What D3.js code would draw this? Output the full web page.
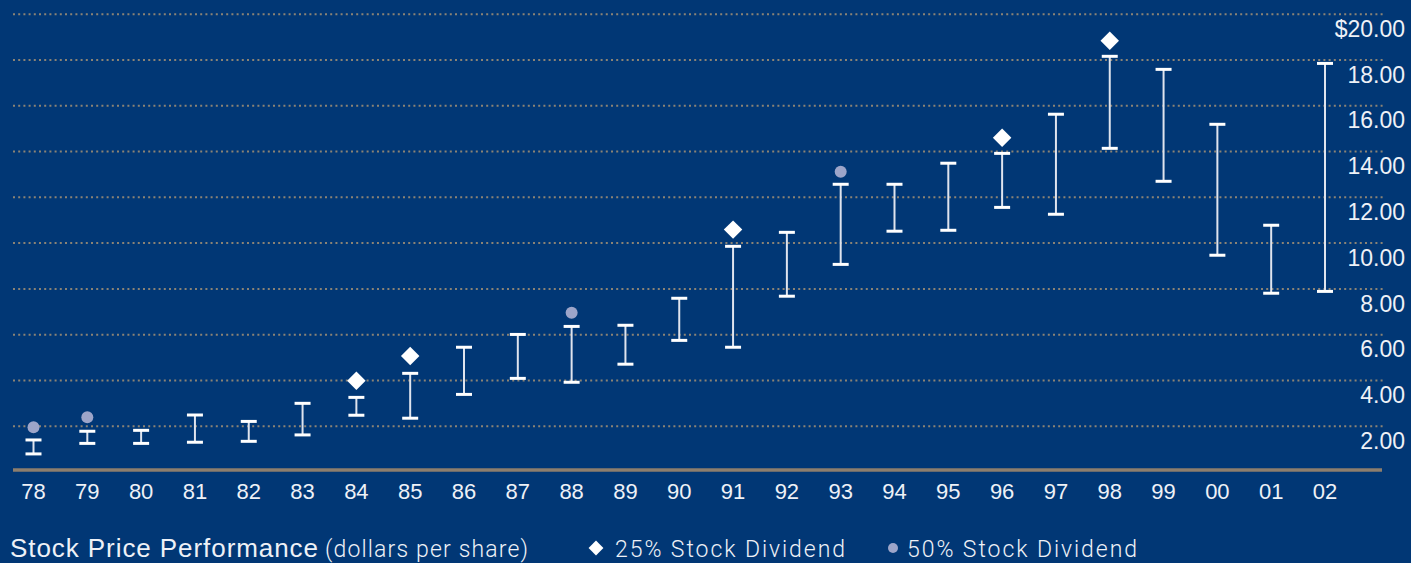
<!DOCTYPE html>
<html>
<head>
<meta charset="utf-8">
<script src="https://cdn.jsdelivr.net/npm/d3@7"></script>
<style>
  html, body { margin: 0; padding: 0; background: #013775; overflow: hidden; }
  svg { display: block; }
</style>
</head>
<body>
<svg id="chart" width="1411" height="563"></svg>
<script>
// ---- data ----
const years = ["78","79","80","81","82","83","84","85","86","87","88","89","90","91","92","93","94","95","96","97","98","99","00","01","02"];
const highs = [1.40,1.78,1.82,2.49,2.21,3.00,3.26,4.31,5.45,6.01,6.36,6.41,7.59,9.86,10.47,12.57,12.57,13.49,13.92,15.63,18.16,17.59,15.19,10.78,17.85];
const lows  = [0.79,1.25,1.25,1.30,1.34,1.62,2.48,2.35,3.39,4.09,3.92,4.71,5.75,5.45,7.68,9.07,10.52,10.56,11.56,11.26,14.14,12.70,9.47,7.81,7.89];
const dividend25Years = ["84","85","91","96","98"];
const dividend25Values = [3.99,5.07,10.59,14.60,18.84];
const dividend50Years = ["78","79","88","93"];
const dividend50Values = [1.95,2.39,6.96,13.12];
const yTicks = [2,4,6,8,10,12,14,16,18,20];
const yTickLabels = ["2.00","4.00","6.00","8.00","10.00","12.00","14.00","16.00","18.00","$20.00"];
const titleMain = "Stock Price Performance";
const titleSub = "(dollars per share)";
const legendLabels = ["25% Stock Dividend","50% Stock Dividend"];

// ---- layout ----
const svg = d3.select("#chart");
const W = 1411, H = 563;
const bg = "#013775";
svg.append("rect").attr("width", W).attr("height", H).attr("fill", bg);

const x = d3.scalePoint().domain(years).range([33.5, 1325]);
const y = d3.scaleLinear().domain([0, 20]).range([472, 14.2]);

const gridX0 = 13, gridX1 = 1383;
const numFont = "'Liberation Sans', Arial, Helvetica, sans-serif";
const lightFont = "Roboto, 'Liberation Sans', sans-serif";
const textColor = "#eef1f7";
const footY = 557;

// grid lines (dotted)
svg.append("g").selectAll("line").data(yTicks).join("line")
  .attr("x1", gridX0).attr("x2", gridX1)
  .attr("y1", d => y(d)).attr("y2", d => y(d))
  .attr("stroke", "#8b8375").attr("stroke-width", 2)
  .attr("stroke-dasharray", "2 3.2");

// y labels (offset below grid lines)
svg.append("g").selectAll("text").data(yTicks).join("text")
  .attr("x", 1405).attr("y", d => y(d) + 22.7)
  .attr("text-anchor", "end")
  .attr("font-family", numFont).attr("font-size", 23)
  .attr("fill", textColor)
  .text((d, i) => yTickLabels[i]);

// baseline
svg.append("line")
  .attr("x1", gridX0).attr("x2", 1382)
  .attr("y1", y(0) - 2).attr("y2", y(0) - 2)
  .attr("stroke", "#8d7e6d").attr("stroke-width", 3.4);

// x labels
svg.append("g").selectAll("text").data(years).join("text")
  .attr("x", d => x(d)).attr("y", 499)
  .attr("text-anchor", "middle")
  .attr("font-family", numFont).attr("font-size", 22)
  .attr("fill", textColor)
  .text(d => d);

// error bars
const bars = svg.append("g").selectAll("g").data(years).join("g");
bars.append("line")
  .attr("x1", d => x(d)).attr("x2", d => x(d))
  .attr("y1", (d, i) => y(highs[i])).attr("y2", (d, i) => y(lows[i]))
  .attr("stroke", "#dfe4ee").attr("stroke-width", 2);
bars.append("line")
  .attr("x1", d => x(d) - 8).attr("x2", d => x(d) + 8)
  .attr("y1", (d, i) => y(highs[i])).attr("y2", (d, i) => y(highs[i]))
  .attr("stroke", "#ffffff").attr("stroke-width", 3);
bars.append("line")
  .attr("x1", d => x(d) - 8).attr("x2", d => x(d) + 8)
  .attr("y1", (d, i) => y(lows[i])).attr("y2", (d, i) => y(lows[i]))
  .attr("stroke", "#ffffff").attr("stroke-width", 3);

// diamonds (25%)
const diamond = d3.symbol().type(d3.symbolSquare).size(170);
svg.append("g").selectAll("path").data(dividend25Years).join("path")
  .attr("d", diamond)
  .attr("transform", (d, i) => `translate(${x(d)},${y(dividend25Values[i])}) rotate(45)`)
  .attr("fill", "#ffffff");

// circles (50%)
svg.append("g").selectAll("circle").data(dividend50Years).join("circle")
  .attr("cx", d => x(d)).attr("cy", (d, i) => y(dividend50Values[i]))
  .attr("r", 6)
  .attr("fill", "#9da5c9");

// title
svg.append("text")
  .attr("x", 10).attr("y", footY)
  .attr("font-family", numFont).attr("font-size", 26).attr("fill", textColor)
  .attr("textLength", 308).attr("lengthAdjust", "spacing")
  .text(titleMain);
svg.append("text")
  .attr("x", 325).attr("y", footY)
  .attr("font-family", lightFont).attr("font-weight", 300).attr("font-size", 23)
  .attr("fill", textColor)
  .attr("textLength", 203).attr("lengthAdjust", "spacing")
  .text(titleSub);

// legend
svg.append("path")
  .attr("d", d3.symbol().type(d3.symbolSquare).size(110))
  .attr("transform", `translate(596,${footY - 9}) rotate(45)`)
  .attr("fill", "#ffffff");
svg.append("text").attr("x", 615).attr("y", footY)
  .attr("font-family", lightFont).attr("font-weight", 300)
  .attr("font-size", 23).attr("fill", textColor)
  .attr("textLength", 230).attr("lengthAdjust", "spacing")
  .text(legendLabels[0]);
svg.append("circle").attr("cx", 893).attr("cy", footY - 9).attr("r", 5).attr("fill", "#9da5c9");
svg.append("text").attr("x", 907).attr("y", footY)
  .attr("font-family", lightFont).attr("font-weight", 300)
  .attr("font-size", 23).attr("fill", textColor)
  .attr("textLength", 230).attr("lengthAdjust", "spacing")
  .text(legendLabels[1]);
</script>
</body>
</html>
